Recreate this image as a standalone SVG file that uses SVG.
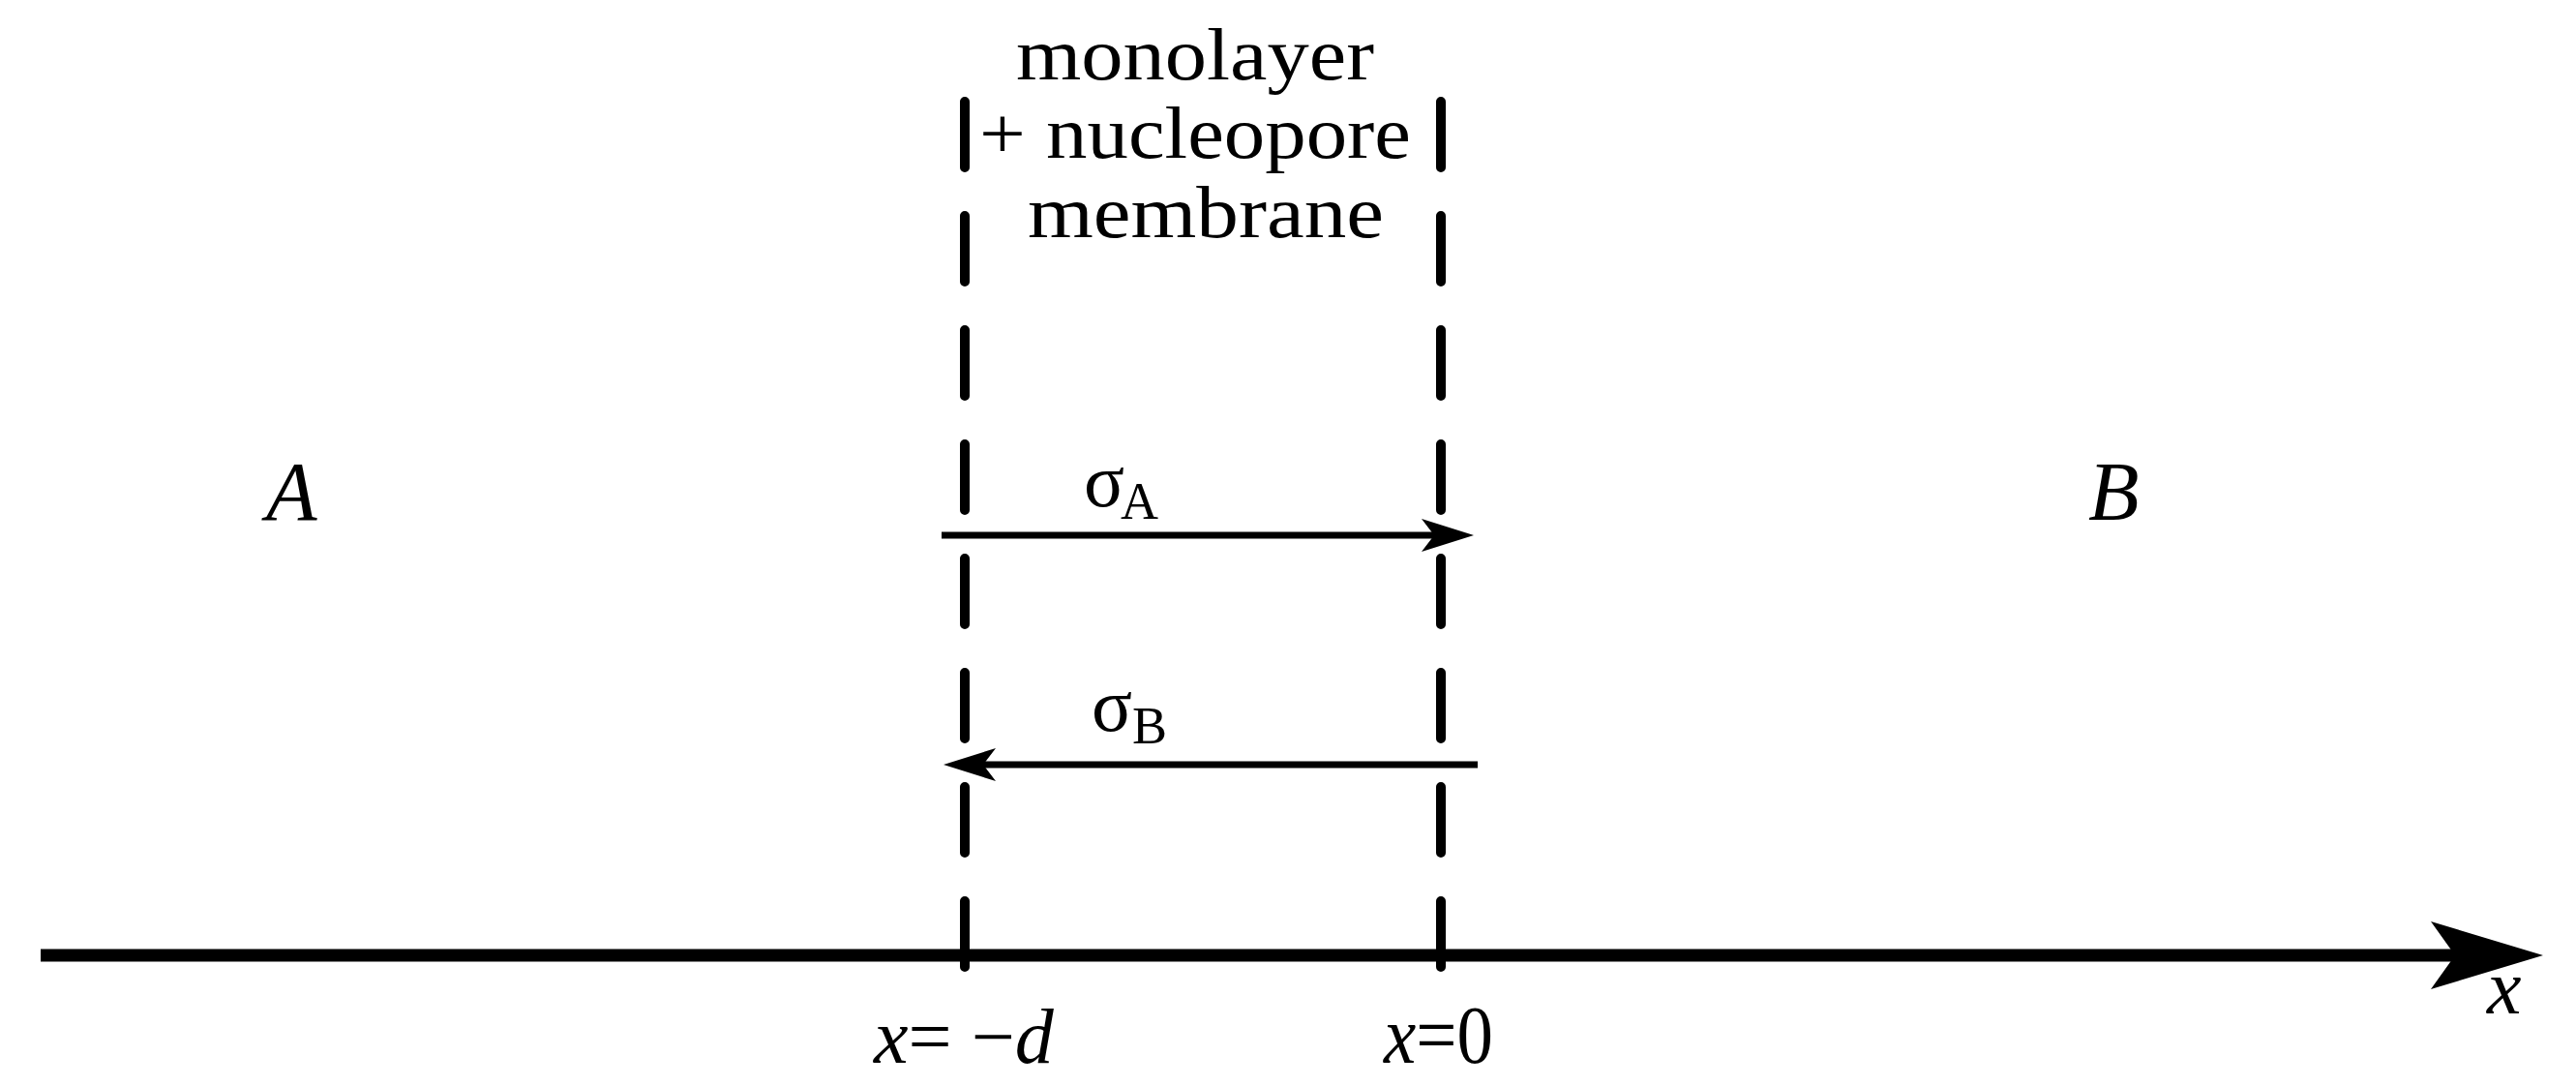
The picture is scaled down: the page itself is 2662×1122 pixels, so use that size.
<svg xmlns="http://www.w3.org/2000/svg" width="2662" height="1122" viewBox="0 0 2662 1122">
<style>
.serif{font-family:"Liberation Serif","Times New Roman",serif;fill:#000}
.it{font-style:italic}
.dash{stroke:#000;stroke-width:10;stroke-linecap:round;stroke-dasharray:68 50;fill:none}
.flux{stroke:#000;stroke-width:7;fill:none}
</style>
<rect width="2662" height="1122" fill="#fff"/>
<g id="membrane-label">
<text class="serif" x="1050" y="82" font-size="76" textLength="370" lengthAdjust="spacingAndGlyphs">monolayer</text>
<text class="serif" x="1012" y="163" font-size="76" textLength="446" lengthAdjust="spacingAndGlyphs">+ nucleopore</text>
<text class="serif" x="1062" y="245" font-size="76" textLength="368" lengthAdjust="spacingAndGlyphs">membrane</text>
</g>
<g id="region-A"><text class="serif it" x="275" y="537" font-size="86">A</text></g>
<g id="region-B"><text class="serif it" x="2158" y="537" font-size="86">B</text></g>
<g id="boundaries">
<line class="dash" x1="997" y1="105" x2="997" y2="999"/>
<line class="dash" x1="1489" y1="105" x2="1489" y2="999"/>
</g>
<g id="connectors">
<line class="flux" x1="973" y1="553" x2="1485" y2="553"/>
<path d="M1523,553 L1469,536 L1482,553 L1469,570 Z" fill="#000"/>
<line class="flux" x1="1012" y1="790" x2="1527" y2="790"/>
<path d="M975,790 L1029,773 L1016,790 L1029,807 Z" fill="#000"/>
<line x1="42" y1="987" x2="2540" y2="987" stroke="#000" stroke-width="13"/>
<path d="M2628,987 L2512,952 L2537,987 L2512,1022 Z" fill="#000"/>
</g>
<g id="flux-labels">
<text class="serif" x="1120" y="523" font-size="78">σ<tspan x="1158" y="536" font-size="54">A</tspan></text>
<text class="serif" x="1128" y="755" font-size="78">σ<tspan x="1170" y="768" font-size="54">B</tspan></text>
</g>
<g id="axis-labels">
<text class="serif it" x="2570" y="1047" font-size="80">x</text>
<text class="serif" x="903" y="1098" font-size="80"><tspan class="it">x</tspan>= −<tspan class="it">d</tspan></text>
<text class="serif" x="1430" y="1098" font-size="84" textLength="113" lengthAdjust="spacingAndGlyphs"><tspan class="it">x</tspan>=0</text>
</g>
</svg>
